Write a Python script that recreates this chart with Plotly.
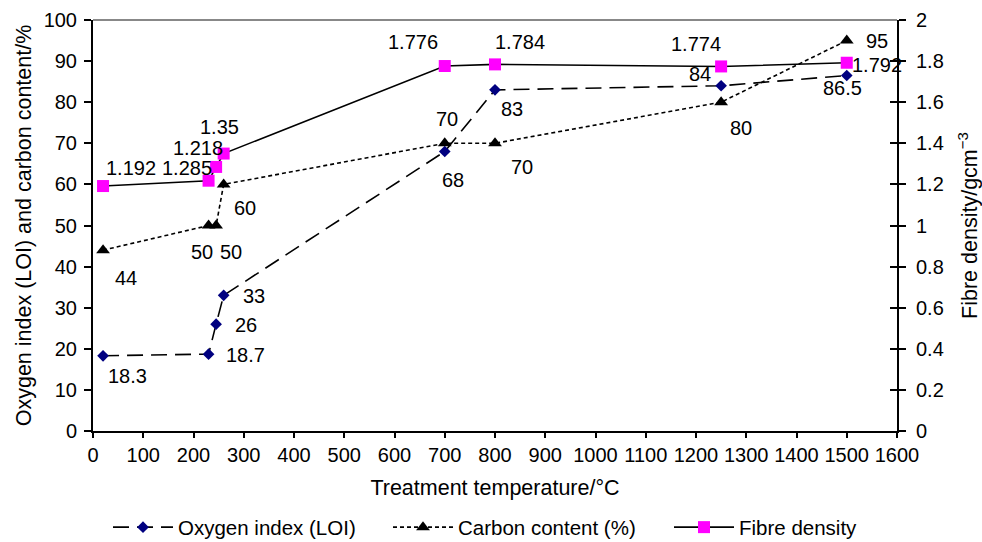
import plotly.graph_objects as go

# ---- data ----
temp_loi = [20, 230, 245, 260, 700, 800, 1250, 1500]
loi = [18.3, 18.7, 26, 33, 68, 83, 84, 86.5]
temp_carbon = [20, 230, 245, 260, 700, 800, 1250, 1500]
carbon = [44, 50, 50, 60, 70, 70, 80, 95]
temp_density = [20, 230, 245, 260, 700, 800, 1250, 1500]
density = [1.192, 1.218, 1.285, 1.35, 1.776, 1.784, 1.774, 1.792]

loi_labels = ["18.3", "18.7", "26", "33", "68", "83", "84", "86.5"]
carbon_labels = ["44", "50", "50", "60", "70", "70", "80", "95"]
density_labels = ["1.192", "1.218", "1.285", "1.35", "1.776", "1.784", "1.774", "1.792"]

# label offsets in pixels (xshift, yshift) - styling only
loi_off = [(24, -20), (37, -1), (30, -1), (30, -1), (8, -28), (17, -19), (-21, 12), (-4, -13)]
carbon_off = [(23, -28), (-7, -26), (15, -26), (21, -24), (2, 24), (27, -24), (20, -26), (30, 0)]
density_off = [(28, 18), (-11, 33), (-29, -1), (-4, 27), (-32, 24), (25, 22), (-25, 22), (30, -2)]

FONT = "Liberation Sans, Arial, sans-serif"
FS = 20
FT = 21.5

fig = go.Figure()
fig.add_trace(go.Scatter(
    x=temp_loi, y=loi, name="Oxygen index (LOI)", mode="lines+markers",
    line=dict(color="black", width=1.6, dash="16px,8px"),
    marker=dict(symbol="diamond", size=9, color="#000080", line=dict(width=0)),
    legend="legend",
))
fig.add_trace(go.Scatter(
    x=temp_carbon, y=carbon, name="Carbon content (%)", mode="lines+markers",
    line=dict(color="black", width=1.6, dash="4px,3px"),
    marker=dict(symbol="triangle-up", size=12, color="black", line=dict(width=0)),
    legend="legend2",
))
fig.add_trace(go.Scatter(
    x=temp_density, y=density, name="Fibre density", mode="lines+markers",
    line=dict(color="black", width=1.6),
    marker=dict(symbol="square", size=12, color="#ff00ff", line=dict(width=0)),
    yaxis="y2", legend="legend3",
))

annotations = []
for xs, ys, labs, offs, yref in [
    (temp_loi, loi, loi_labels, loi_off, "y"),
    (temp_carbon, carbon, carbon_labels, carbon_off, "y"),
    (temp_density, density, density_labels, density_off, "y2"),
]:
    for x, y, t, (dx, dy) in zip(xs, ys, labs, offs):
        annotations.append(dict(
            x=x, y=y, xref="x", yref=yref, text=t, showarrow=False,
            xshift=dx, yshift=dy, font=dict(family=FONT, size=FS, color="black"),
        ))

def leg(xpx):
    return dict(
        orientation="h", xref="container", x=xpx / 982, xanchor="left",
        yref="container", y=0.064, yanchor="top",
        itemwidth=60, font=dict(family=FONT, size=20.5), bgcolor="rgba(0,0,0,0)",
    )

fig.update_layout(
    width=982, height=542,
    margin=dict(l=93, r=85, t=20, b=111, autoexpand=False),
    paper_bgcolor="white", plot_bgcolor="white",
    font=dict(family=FONT, size=FS, color="black"),
    annotations=annotations,
    xaxis=dict(
        range=[0, 1600], dtick=100, tick0=0, showgrid=False, zeroline=False,
        showline=True, linecolor="black", linewidth=2,
        ticks="outside", ticklen=5, tickwidth=1.5, tickcolor="black",
        ticklabelstandoff=0, tickfont=dict(size=FS),
        title=dict(text="Treatment temperature/°C", standoff=15, font=dict(size=FT)),
    ),
    yaxis=dict(
        range=[0, 100], dtick=10, showgrid=False, zeroline=False,
        showline=True, linecolor="black", linewidth=2,
        ticks="outside", ticklen=7, tickwidth=1.5, tickcolor="black",
        ticklabelstandoff=3, tickfont=dict(size=FS),
        title=dict(text="Oxygen index (LOI) and carbon content/%", standoff=6, font=dict(size=FT)),
    ),
    yaxis2=dict(
        range=[0, 2], dtick=0.2, overlaying="y", side="right",
        showgrid=False, zeroline=False,
        showline=True, linecolor="black", linewidth=2,
        ticks="outside", ticklen=7, tickwidth=1.5, tickcolor="black",
        ticklabelstandoff=6, tickfont=dict(size=FS),
        title=dict(text="Fibre density/gcm<sup>−3</sup>", standoff=19, font=dict(size=FT)),
    ),
    yaxis3=dict(
        range=[0, 2], dtick=0.2, overlaying="y", side="right",
        showgrid=False, zeroline=False, showticklabels=False,
        ticks="inside", ticklen=7, tickwidth=1.5, tickcolor="black",
    ),
    shapes=[dict(type="line", xref="paper", yref="paper", x0=0, x1=1, y0=1, y1=1,
                 line=dict(color="#888888", width=2))],
    legend=leg(108),
    legend2=leg(388),
    legend3=leg(669),
    showlegend=True,
)
fig.add_trace(go.Scatter(x=[None], y=[None], yaxis="y3", showlegend=False, hoverinfo="skip"))

fig.write_html("out.html")
